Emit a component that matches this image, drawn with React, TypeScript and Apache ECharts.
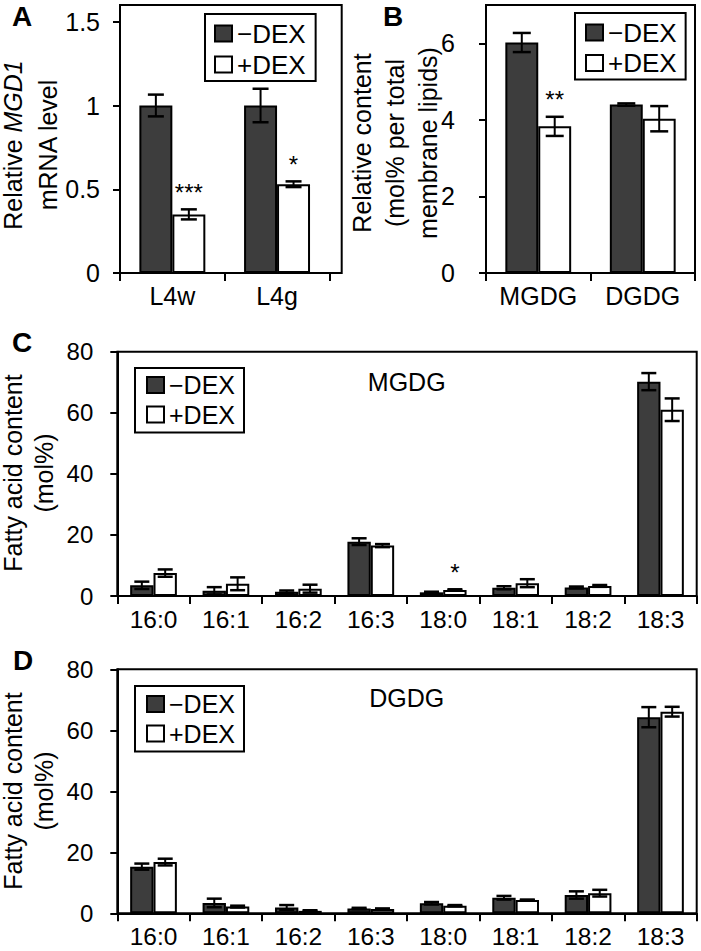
import React, { useEffect, useRef } from "react";
import * as echarts from "echarts";

const FONT = "'Liberation Sans', Arial, Helvetica, sans-serif";
const DARK = "#3d3d3d";

// ---------- Panel A: relative MGD1 mRNA level ----------
const catsA = ["L4w", "L4g"];
const minusA = [1.0, 1.0];
const minusAErr = [0.065, 0.1];
const plusA = [0.35, 0.53];
const plusAErr = [0.03, 0.017];
const sigA = ["***", "*"];
const ticksA = [0, 0.5, 1, 1.5];

// ---------- Panel B: relative content ----------
const catsB = ["MGDG", "DGDG"];
const minusB = [6.02, 4.4];
const minusBErr = [0.25, 0.03];
const plusB = [3.83, 4.03];
const plusBErr = [0.25, 0.33];
const sigB = ["**", ""];
const ticksB = [0, 2, 4, 6];

// ---------- Panels C/D: fatty acid content ----------
const fattyAcids = ["16:0", "16:1", "16:2", "16:3", "18:0", "18:1", "18:2", "18:3"];
const ticksCD = [0, 20, 40, 60, 80];

const minusC = [3.5, 1.7, 1.4, 17.8, 1.2, 2.7, 2.8, 70.2];
const minusCErr = [1.2, 1.2, 0.4, 1.1, 0.2, 0.5, 0.3, 2.8];
const plusC = [7.5, 4.0, 2.4, 16.5, 2.0, 4.2, 3.3, 61.0];
const plusCErr = [1.2, 2.1, 1.3, 0.5, 0.2, 1.3, 0.3, 3.7];
const sigC = ["", "", "", "", "*", "", "", ""];

const minusD = [15.3, 3.4, 1.9, 1.6, 3.3, 5.1, 6.0, 64.3];
const minusDErr = [1.0, 1.4, 0.8, 0.2, 0.4, 0.6, 1.2, 3.3];
const plusD = [16.8, 2.2, 0.8, 1.4, 2.5, 4.4, 6.6, 66.1];
const plusDErr = [1.1, 0.3, 0.2, 0.2, 0.2, 0.1, 1.1, 1.6];
const sigD = ["", "", "", "", "", "", "", ""];

const LEG_MINUS = "\u2212DEX";
const LEG_PLUS = "+DEX";

function barSeries(idx: number, name: string, data: number[], fill: string, gap: number) {
  return {
    type: "bar",
    name,
    xAxisIndex: idx,
    yAxisIndex: idx,
    data,
    barGap: "0%",
    barCategoryGap: gap * 100 + "%",
    silent: true,
    itemStyle: { color: fill, borderColor: "#000", borderWidth: 2 },
  };
}

function errSeries(
  idx: number,
  means: number[],
  errs: number[],
  sigs: string[],
  side: number,
  gap: number,
  capW: number,
  starSize: number
) {
  return {
    type: "custom",
    xAxisIndex: idx,
    yAxisIndex: idx,
    z: 10,
    silent: true,
    data: means.map((m, i) => [i, m]),
    encode: { x: 0, y: 1 },
    renderItem: (params: any, api: any) => {
      const i = params.dataIndex;
      const m = means[i];
      const e = errs[i];
      const band = api.size([1, 0])[0];
      const bw = (band * (1 - gap)) / 2;
      const c = api.coord([i, m]);
      const x = c[0] + (side * bw) / 2;
      const yTop = api.coord([i, m + e])[1];
      const yBot = api.coord([i, m - e])[1];
      const ls = { stroke: "#000", lineWidth: 2 };
      const children: any[] = [
        { type: "line", shape: { x1: x, y1: yTop, x2: x, y2: yBot }, style: ls },
        { type: "line", shape: { x1: x - capW / 2, y1: yTop, x2: x + capW / 2, y2: yTop }, style: { stroke: "#000", lineWidth: 2.5 } },
        { type: "line", shape: { x1: x - capW / 2, y1: yBot, x2: x + capW / 2, y2: yBot }, style: { stroke: "#000", lineWidth: 2.5 } },
      ];
      const s = sigs[i];
      if (s) {
        children.push({
          type: "text",
          x,
          y: yTop - 17,
          style: {
            text: s,
            fill: "#000",
            fontSize: starSize,
            fontFamily: FONT,
            align: "center",
            textAlign: "center",
            verticalAlign: "middle",
            textVerticalAlign: "middle",
          },
        });
      }
      return { type: "group", children };
    },
  };
}

function xAxis(idx: number, cats: string[], fontSize: number, margin: number) {
  return {
    type: "category",
    gridIndex: idx,
    data: cats,
    axisLine: { show: true, lineStyle: { color: "#000", width: 2 } },
    axisTick: { show: true, alignWithLabel: false, interval: 0, length: 8, lineStyle: { color: "#000", width: 2 } },
    axisLabel: { color: "#000", fontSize, fontFamily: FONT, margin, interval: 0 },
    splitLine: { show: false },
  };
}

function yAxis(idx: number, max: number, ticks: number[], fontSize: number, margin: number) {
  return {
    type: "value",
    gridIndex: idx,
    min: 0,
    max,
    axisLine: { show: true, lineStyle: { color: "#000", width: 2 } },
    axisTick: { show: true, length: 7, lineStyle: { color: "#000", width: 2 }, customValues: ticks },
    axisLabel: { color: "#000", fontSize, fontFamily: FONT, margin, customValues: ticks },
    splitLine: { show: false },
  };
}

function legend(left: number, top: number, fontSize: number, padding: number[], itemGap: number) {
  return {
    show: true,
    orient: "vertical",
    left,
    top,
    itemWidth: 17,
    itemHeight: 16,
    itemGap,
    padding,
    borderColor: "#000",
    borderWidth: 2,
    borderRadius: 0,
    backgroundColor: "#fff",
    selectedMode: false,
    icon: "rect",
    textStyle: { color: "#000", fontSize, fontFamily: FONT, lineHeight: fontSize + 1 },
    data: [
      { name: LEG_MINUS, itemStyle: { color: DARK, borderColor: "#000", borderWidth: 2 } },
      { name: LEG_PLUS, itemStyle: { color: "#fff", borderColor: "#000", borderWidth: 2 } },
    ],
  };
}

function letter(t: string, x: number, y: number) {
  return {
    type: "text",
    x,
    y,
    style: {
      text: t,
      fill: "#000",
      fontSize: 28,
      fontWeight: "bold",
      fontFamily: FONT,
      align: "left",
      textAlign: "left",
      verticalAlign: "middle",
      textVerticalAlign: "middle",
    },
  };
}

function vTitle(text: string, x: number, y: number, fontSize: number, lineHeight: number, rich?: any) {
  return {
    type: "text",
    x,
    y,
    rotation: Math.PI / 2,
    style: {
      text,
      fill: "#000",
      fontSize,
      fontFamily: FONT,
      lineHeight,
      align: "center",
      textAlign: "center",
      verticalAlign: "middle",
      textVerticalAlign: "middle",
      rich,
    },
  };
}

function plainText(text: string, x: number, y: number, fontSize: number) {
  return {
    type: "text",
    x,
    y,
    style: {
      text,
      fill: "#000",
      fontSize,
      fontFamily: FONT,
      align: "center",
      textAlign: "center",
      verticalAlign: "middle",
      textVerticalAlign: "middle",
    },
  };
}

export default function App() {
  const ref = useRef<HTMLDivElement>(null);

  useEffect(() => {
    if (!ref.current) return;
    const chart = echarts.init(ref.current, null, { renderer: "svg" });
    const gapAB = 0.37;
    const gapCD = 0.355;

    const option: any = {
      animation: false,
      backgroundColor: "#fff",
      textStyle: { fontFamily: FONT },
      grid: [
        { left: 120, top: 5, width: 209.4, height: 268, show: false },
        { left: 486, top: 5, width: 209, height: 268, show: true, borderColor: "#000", borderWidth: 2, backgroundColor: "transparent" },
        { left: 117.3, top: 351.7, width: 579.4, height: 244.3, show: true, borderColor: "#000", borderWidth: 2, backgroundColor: "transparent" },
        { left: 117.3, top: 669.3, width: 579.4, height: 244, show: true, borderColor: "#000", borderWidth: 2, backgroundColor: "transparent" },
      ],
      xAxis: [
        xAxis(0, catsA, 25, 10),
        xAxis(1, catsB, 25, 10),
        xAxis(2, fattyAcids, 24.5, 11),
        xAxis(3, fattyAcids, 24.5, 11),
      ],
      yAxis: [
        yAxis(0, 1.6, ticksA, 25, 20),
        yAxis(1, 7, ticksB, 25, 31),
        yAxis(2, 80, ticksCD, 24, 24),
        yAxis(3, 80, ticksCD, 24, 24),
      ],
      legend: [
        legend(205, 14, 26, [6, 10, 3, 9], 4),
        legend(575, 13, 26, [6, 9, 3, 10], 3.5),
        legend(135, 368, 25, [4, 9, 5, 11], 3.5),
        legend(135, 686, 25, [5, 9, 5, 11], 3.5),
      ],
      series: [
        barSeries(0, LEG_MINUS, minusA, DARK, gapAB),
        barSeries(0, LEG_PLUS, plusA, "#fff", gapAB),
        errSeries(0, minusA, minusAErr, ["", ""], -1, gapAB, 16, 24),
        errSeries(0, plusA, plusAErr, sigA, 1, gapAB, 16, 24),

        barSeries(1, LEG_MINUS, minusB, DARK, gapAB),
        barSeries(1, LEG_PLUS, plusB, "#fff", gapAB),
        errSeries(1, minusB, minusBErr, ["", ""], -1, gapAB, 18, 24),
        errSeries(1, plusB, plusBErr, sigB, 1, gapAB, 18, 24),

        barSeries(2, LEG_MINUS, minusC, DARK, gapCD),
        barSeries(2, LEG_PLUS, plusC, "#fff", gapCD),
        errSeries(2, minusC, minusCErr, sigD, -1, gapCD, 15, 24),
        errSeries(2, plusC, plusCErr, sigC, 1, gapCD, 15, 24),

        barSeries(3, LEG_MINUS, minusD, DARK, gapCD),
        barSeries(3, LEG_PLUS, plusD, "#fff", gapCD),
        errSeries(3, minusD, minusDErr, sigD, -1, gapCD, 15, 24),
        errSeries(3, plusD, plusDErr, sigD, 1, gapCD, 15, 24),
      ],
      graphic: [
        {
          type: "rect",
          shape: { x: 120, y: 5, width: 221.7, height: 268 },
          style: { fill: "none", stroke: "#000", lineWidth: 2 },
          silent: true,
        },
        letter("A", 12, 16.7),
        letter("B", 383, 16),
        letter("C", 12, 342),
        letter("D", 13, 660),
        vTitle("Relative {i|MGD1}\nmRNA level", 30, 145, 25, 35, {
          i: { fontStyle: "italic", fontSize: 25, fontFamily: FONT, lineHeight: 35, fill: "#000" },
        }),
        vTitle("Relative content\n(mol% per total\nmembrane lipids)", 395, 143, 25, 33),
        vTitle("Fatty acid content\n(mol%)", 28.5, 473, 25, 31),
        vTitle("Fatty acid content\n(mol%)", 28.5, 791, 25, 31),
        plainText("MGDG", 406.7, 381.7, 25),
        plainText("DGDG", 406.7, 698.3, 25),
      ],
    };

    chart.setOption(option);
    return () => chart.dispose();
  }, []);

  return (
    <div
      ref={ref}
      style={{ position: "absolute", left: 0, top: 0, width: 701, height: 951, background: "#fff" }}
    />
  );
}
